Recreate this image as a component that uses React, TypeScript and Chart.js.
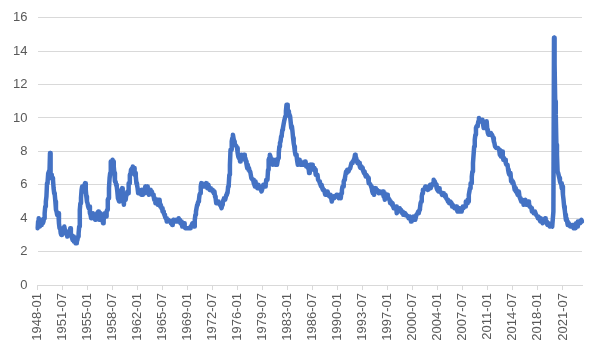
import React, { useEffect, useRef } from "react";
import { Chart, registerables } from "chart.js";

Chart.register(...registerables);

const START_YEAR = 1948;
const LABEL_EVERY = 42;
const Y_TICKS = { min: 0, max: 16, step: 2 };

// Monthly unemployment rate (%), one row per year starting 1948-01
const rates: number[] = [
  3.4, 3.8, 4.0, 3.9, 3.5, 3.6, 3.6, 3.9, 3.8, 3.7, 3.8, 4.0, // 1948
  4.3, 4.7, 5.0, 5.3, 6.1, 6.2, 6.7, 6.8, 6.6, 7.9, 6.4, 6.6, // 1949
  6.5, 6.4, 6.3, 5.8, 5.5, 5.4, 5.0, 4.5, 4.4, 4.2, 4.2, 4.3, // 1950
  3.7, 3.4, 3.4, 3.1, 3.0, 3.2, 3.1, 3.1, 3.3, 3.5, 3.5, 3.1, // 1951
  3.2, 3.1, 2.9, 2.9, 3.0, 3.0, 3.2, 3.4, 3.1, 3.0, 2.8, 2.7, // 1952
  2.9, 2.6, 2.6, 2.7, 2.5, 2.5, 2.6, 2.7, 2.9, 3.1, 3.5, 4.5, // 1953
  4.9, 5.2, 5.7, 5.9, 5.9, 5.6, 5.8, 6.0, 6.1, 5.7, 5.3, 5.0, // 1954
  4.9, 4.7, 4.6, 4.7, 4.3, 4.2, 4.0, 4.2, 4.1, 4.3, 4.2, 4.2, // 1955
  4.0, 3.9, 4.2, 4.0, 4.3, 4.3, 4.4, 4.1, 3.9, 3.9, 4.3, 4.2, // 1956
  4.2, 3.9, 3.7, 3.9, 4.1, 4.3, 4.2, 4.1, 4.4, 4.5, 5.1, 5.2, // 1957
  5.8, 6.4, 6.7, 7.4, 7.4, 7.3, 7.5, 7.4, 7.1, 6.7, 6.2, 6.2, // 1958
  6.0, 5.9, 5.6, 5.2, 5.1, 5.0, 5.1, 5.2, 5.5, 5.7, 5.8, 5.3, // 1959
  5.2, 4.8, 5.4, 5.2, 5.1, 5.4, 5.5, 5.6, 5.5, 6.1, 6.1, 6.6, // 1960
  6.6, 6.9, 6.9, 7.0, 7.1, 6.9, 7.0, 6.6, 6.7, 6.5, 6.1, 6.0, // 1961
  5.8, 5.5, 5.6, 5.6, 5.5, 5.5, 5.4, 5.7, 5.6, 5.4, 5.7, 5.5, // 1962
  5.7, 5.9, 5.7, 5.7, 5.9, 5.6, 5.6, 5.4, 5.5, 5.5, 5.7, 5.5, // 1963
  5.6, 5.4, 5.4, 5.3, 5.1, 5.2, 4.9, 5.0, 5.1, 5.1, 4.8, 5.0, // 1964
  4.9, 5.1, 4.7, 4.8, 4.6, 4.6, 4.4, 4.4, 4.3, 4.2, 4.1, 4.0, // 1965
  4.0, 3.8, 3.8, 3.8, 3.9, 3.8, 3.8, 3.8, 3.7, 3.7, 3.6, 3.8, // 1966
  3.9, 3.8, 3.8, 3.8, 3.8, 3.9, 3.8, 3.8, 3.8, 4.0, 3.9, 3.8, // 1967
  3.7, 3.8, 3.7, 3.5, 3.5, 3.7, 3.7, 3.5, 3.4, 3.4, 3.4, 3.4, // 1968
  3.4, 3.4, 3.4, 3.4, 3.4, 3.5, 3.5, 3.5, 3.7, 3.7, 3.5, 3.5, // 1969
  3.9, 4.2, 4.4, 4.6, 4.8, 4.9, 5.0, 5.1, 5.4, 5.5, 5.9, 6.1, // 1970
  5.9, 5.9, 6.0, 5.9, 5.9, 5.9, 6.0, 6.1, 6.0, 5.8, 6.0, 6.0, // 1971
  5.8, 5.7, 5.8, 5.7, 5.7, 5.7, 5.6, 5.6, 5.5, 5.6, 5.3, 5.2, // 1972
  4.9, 5.0, 4.9, 5.0, 4.9, 4.9, 4.8, 4.8, 4.8, 4.6, 4.8, 4.9, // 1973
  5.1, 5.2, 5.1, 5.1, 5.1, 5.4, 5.5, 5.5, 5.9, 6.0, 6.6, 7.2, // 1974
  8.1, 8.1, 8.6, 8.8, 9.0, 8.8, 8.6, 8.4, 8.4, 8.4, 8.3, 8.2, // 1975
  7.9, 7.7, 7.6, 7.7, 7.4, 7.6, 7.8, 7.8, 7.6, 7.7, 7.8, 7.8, // 1976
  7.5, 7.6, 7.4, 7.2, 7.0, 7.2, 6.9, 7.0, 6.8, 6.8, 6.8, 6.4, // 1977
  6.4, 6.3, 6.3, 6.1, 6.0, 5.9, 6.2, 5.9, 6.0, 5.8, 5.9, 6.0, // 1978
  5.9, 5.9, 5.8, 5.8, 5.6, 5.7, 5.7, 6.0, 5.9, 6.0, 5.9, 6.0, // 1979
  6.3, 6.3, 6.3, 6.9, 7.5, 7.6, 7.8, 7.7, 7.5, 7.5, 7.5, 7.2, // 1980
  7.5, 7.4, 7.4, 7.2, 7.5, 7.5, 7.2, 7.4, 7.6, 7.9, 8.3, 8.5, // 1981
  8.6, 8.9, 9.0, 9.3, 9.4, 9.6, 9.8, 9.8, 10.1, 10.4, 10.8, 10.8, // 1982
  10.4, 10.4, 10.3, 10.2, 10.1, 10.1, 9.4, 9.5, 9.2, 8.8, 8.5, 8.3, // 1983
  8.0, 7.8, 7.8, 7.7, 7.4, 7.2, 7.5, 7.5, 7.3, 7.4, 7.2, 7.3, // 1984
  7.3, 7.2, 7.2, 7.3, 7.2, 7.4, 7.4, 7.1, 7.1, 7.1, 7.0, 7.0, // 1985
  6.7, 7.2, 7.2, 7.1, 7.2, 7.2, 7.0, 6.9, 7.0, 7.0, 6.9, 6.6, // 1986
  6.6, 6.6, 6.6, 6.3, 6.3, 6.2, 6.1, 6.0, 5.9, 6.0, 5.8, 5.7, // 1987
  5.7, 5.7, 5.7, 5.4, 5.6, 5.4, 5.4, 5.6, 5.4, 5.4, 5.3, 5.3, // 1988
  5.4, 5.2, 5.0, 5.2, 5.2, 5.3, 5.2, 5.2, 5.3, 5.3, 5.4, 5.4, // 1989
  5.4, 5.3, 5.2, 5.4, 5.4, 5.2, 5.5, 5.7, 5.9, 5.9, 6.2, 6.3, // 1990
  6.4, 6.6, 6.8, 6.7, 6.9, 6.9, 6.8, 6.9, 6.9, 7.0, 7.0, 7.3, // 1991
  7.3, 7.4, 7.4, 7.4, 7.6, 7.8, 7.7, 7.6, 7.6, 7.3, 7.4, 7.4, // 1992
  7.3, 7.1, 7.0, 7.1, 7.1, 7.0, 6.9, 6.8, 6.7, 6.8, 6.6, 6.5, // 1993
  6.6, 6.6, 6.5, 6.4, 6.1, 6.1, 6.1, 6.0, 5.9, 5.8, 5.6, 5.5, // 1994
  5.6, 5.4, 5.4, 5.8, 5.6, 5.6, 5.7, 5.7, 5.6, 5.5, 5.6, 5.6, // 1995
  5.6, 5.5, 5.5, 5.6, 5.6, 5.3, 5.5, 5.1, 5.2, 5.2, 5.4, 5.4, // 1996
  5.3, 5.2, 5.2, 5.1, 4.9, 5.0, 4.9, 4.8, 4.9, 4.7, 4.6, 4.7, // 1997
  4.6, 4.6, 4.7, 4.3, 4.4, 4.5, 4.5, 4.5, 4.6, 4.5, 4.4, 4.4, // 1998
  4.3, 4.4, 4.2, 4.3, 4.2, 4.3, 4.3, 4.2, 4.2, 4.1, 4.1, 4.0, // 1999
  4.0, 4.1, 4.0, 3.8, 4.0, 4.0, 4.0, 4.1, 3.9, 3.9, 3.9, 3.9, // 2000
  4.2, 4.2, 4.3, 4.4, 4.3, 4.5, 4.6, 4.9, 5.0, 5.3, 5.5, 5.7, // 2001
  5.7, 5.7, 5.7, 5.9, 5.8, 5.8, 5.8, 5.7, 5.7, 5.7, 5.9, 6.0, // 2002
  5.8, 5.9, 5.9, 6.0, 6.1, 6.3, 6.2, 6.1, 6.1, 6.0, 5.8, 5.7, // 2003
  5.7, 5.6, 5.8, 5.6, 5.6, 5.6, 5.5, 5.4, 5.4, 5.5, 5.4, 5.4, // 2004
  5.3, 5.4, 5.2, 5.2, 5.1, 5.0, 5.0, 4.9, 5.0, 5.0, 5.0, 4.9, // 2005
  4.7, 4.8, 4.7, 4.7, 4.6, 4.6, 4.7, 4.7, 4.5, 4.4, 4.5, 4.4, // 2006
  4.6, 4.5, 4.4, 4.5, 4.4, 4.6, 4.7, 4.6, 4.7, 4.7, 4.7, 5.0, // 2007
  5.0, 4.9, 5.1, 5.0, 5.4, 5.6, 5.8, 6.1, 6.1, 6.5, 6.8, 7.3, // 2008
  7.8, 8.3, 8.7, 9.0, 9.4, 9.5, 9.5, 9.6, 9.8, 10.0, 9.9, 9.9, // 2009
  9.8, 9.8, 9.9, 9.9, 9.6, 9.4, 9.4, 9.5, 9.5, 9.4, 9.8, 9.3, // 2010
  9.1, 9.0, 9.0, 9.1, 9.0, 9.1, 9.0, 9.0, 9.0, 8.8, 8.6, 8.5, // 2011
  8.3, 8.3, 8.2, 8.2, 8.2, 8.2, 8.2, 8.1, 7.8, 7.8, 7.7, 7.9, // 2012
  8.0, 7.7, 7.5, 7.6, 7.5, 7.5, 7.3, 7.2, 7.2, 7.2, 6.9, 6.7, // 2013
  6.6, 6.7, 6.7, 6.2, 6.3, 6.1, 6.2, 6.1, 5.9, 5.7, 5.8, 5.6, // 2014
  5.7, 5.5, 5.4, 5.4, 5.6, 5.3, 5.2, 5.1, 5.0, 5.0, 5.1, 5.0, // 2015
  4.8, 4.9, 5.0, 5.1, 4.8, 4.9, 4.8, 4.9, 5.0, 4.9, 4.7, 4.7, // 2016
  4.7, 4.6, 4.4, 4.4, 4.4, 4.3, 4.3, 4.4, 4.3, 4.2, 4.2, 4.1, // 2017
  4.0, 4.1, 4.0, 4.0, 3.8, 4.0, 3.8, 3.8, 3.7, 3.8, 3.8, 3.9, // 2018
  4.0, 3.8, 3.8, 3.7, 3.6, 3.6, 3.7, 3.6, 3.5, 3.6, 3.6, 3.6, // 2019
  3.5, 3.5, 4.4, 14.8, 13.2, 11.0, 10.2, 8.4, 7.8, 6.8, 6.7, 6.7, // 2020
  6.4, 6.2, 6.1, 6.1, 5.8, 5.9, 5.4, 5.1, 4.7, 4.5, 4.2, 3.9, // 2021
  4.0, 3.8, 3.6, 3.7, 3.6, 3.6, 3.5, 3.6, 3.5, 3.6, 3.6, 3.5, // 2022
  3.4, 3.6, 3.5, 3.4, 3.7, 3.6, 3.5, 3.8, 3.8, 3.8, 3.7, 3.7, // 2023
  3.7, 3.9, 3.8, // 2024
];

const categories: string[] = rates.map((_, i) => {
  const y = START_YEAR + Math.floor(i / 12);
  const m = (i % 12) + 1;
  return `${y}-${m < 10 ? "0" + m : m}`;
});

const FONT = "'Liberation Sans', Arial, sans-serif";

export default function App() {
  const ref = useRef<HTMLCanvasElement | null>(null);

  useEffect(() => {
    if (!ref.current) return;
    const chart = new Chart(ref.current, {
      type: "line",
      data: {
        labels: categories,
        datasets: [
          {
            data: rates,
            borderColor: "#4472C4",
            backgroundColor: "#4472C4",
            borderWidth: 4.5,
            pointRadius: 0,
            pointHoverRadius: 0,
            tension: 0,
            borderJoinStyle: "round",
            borderCapStyle: "round",
            fill: false,
          },
        ],
      },
      options: {
        animation: false,
        responsive: false,
        maintainAspectRatio: false,
        events: [],
        layout: { padding: { left: 0, right: 18, top: 15, bottom: 0 } },
        plugins: { legend: { display: false }, tooltip: { enabled: false } },
        scales: {
          x: {
            type: "category",
            grid: {
              drawOnChartArea: false,
              drawTicks: true,
              tickLength: 5,
              color: "#d9d9d9",
            },
            border: { color: "#d9d9d9", width: 1 },
            ticks: {
              autoSkip: false,
              minRotation: 90,
              maxRotation: 90,
              padding: 3,
              color: "#595959",
              font: { family: FONT, size: 13 },
              callback: (_v: any, i: number) =>
                i % LABEL_EVERY === 0 ? categories[i] : null,
            },
            afterFit: (s: any) => {
              s.height = 75;
            },
          },
          y: {
            min: Y_TICKS.min,
            max: Y_TICKS.max,
            grid: { color: "#d9d9d9", drawTicks: false, lineWidth: 1 },
            border: { display: false },
            ticks: {
              stepSize: Y_TICKS.step,
              padding: 10,
              color: "#595959",
              font: { family: FONT, size: 13 },
            },
            afterFit: (s: any) => {
              s.width = 37.5;
            },
          },
        },
      },
    } as any);
    return () => chart.destroy();
  }, []);

  return (
    <div style={{ position: "fixed", left: 0, top: 0, width: 600, height: 360, background: "#fff" }}>
      <canvas ref={ref} width={600} height={360} style={{ width: 600, height: 360 }} />
    </div>
  );
}
